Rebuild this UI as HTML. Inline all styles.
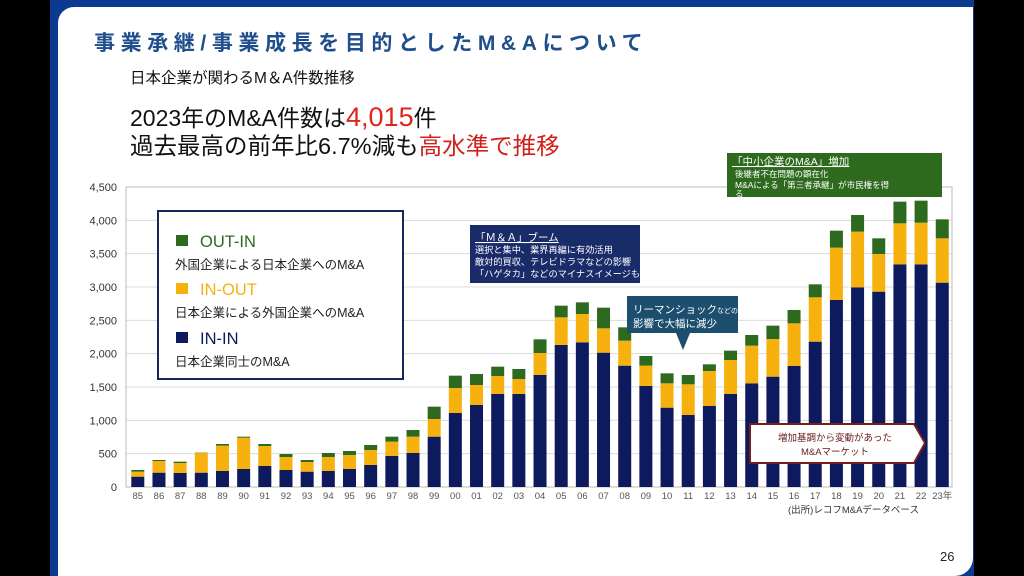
<!DOCTYPE html>
<html><head><meta charset="utf-8">
<style>
*{margin:0;padding:0;box-sizing:border-box}
body{width:1024px;height:576px;background:#000;position:relative;overflow:hidden;font-family:"Liberation Sans","Noto Sans CJK JP",sans-serif}
#frame{position:absolute;left:50px;top:0;width:924px;height:576px;background:#0b3a8e}
#slide{position:absolute;left:58px;top:7px;width:915px;height:569px;background:#fff;border-radius:16px 0 18px 0}
.t{position:absolute;white-space:nowrap}
</style></head><body>
<div id="frame"></div>
<div id="slide"></div>
<div class="t" style="left:94px;top:27px;font-size:21px;font-weight:bold;color:#1f4e8c;letter-spacing:5.6px">事業承継/事業成長を目的としたM&amp;Aについて</div>
<div class="t" style="left:130px;top:66px;font-size:15.5px;color:#111">日本企業が関わるM＆A件数推移</div>
<div class="t" style="left:130px;top:99px;font-size:23px;color:#111">2023年のM&amp;A件数は<span style="color:#e0241c;font-size:27px">4,015</span>件</div>
<div class="t" style="left:130px;top:127px;font-size:23.5px;color:#111">過去最高の前年比6.7%減も<span style="color:#d0221a">高水準で推移</span></div>
<svg id="ch" width="1024" height="576" style="position:absolute;left:0;top:0" font-family="Liberation Sans, Noto Sans CJK JP, sans-serif"></svg>
<div class="t" style="left:940px;top:549px;font-size:13px;color:#222">26</div>
<script>
var d=[[155,75,25],[215,175,15],[210,150,20],[215,295,5],[240,380,25],[270,470,15],[315,300,30],[255,195,45],[230,145,30],[240,210,60],[270,210,60],[330,225,75],[465,215,75],[510,245,100],[755,265,185],[1110,375,185],[1230,300,165],[1395,270,140],[1395,225,150],[1680,330,205],[2130,415,175],[2170,425,175],[2015,365,310],[1820,375,200],[1515,305,145],[1190,365,150],[1080,460,140],[1215,525,100],[1395,510,140],[1555,565,160],[1655,565,200],[1815,640,200],[2180,665,195],[2805,785,255],[2995,835,250],[2930,565,235],[3340,615,325],[3340,625,330],[3065,665,285]];
var lab=["85","86","87","88","89","90","91","92","93","94","95","96","97","98","99","00","01","02","03","04","05","06","07","08","09","10","11","12","13","14","15","16","17","18","19","20","21","22","23年"];
var k=300/4500,s='';
for(var i=0;i<=9;i++){var y=487-i*500*k;s+='<line x1="126" x2="952" y1="'+y+'" y2="'+y+'" stroke="#dcdcdc" stroke-width="1"/>';
s+='<text x="117" y="'+(y+4)+'" font-size="11" fill="#333" text-anchor="end">'+(i==0?'0':(i*500).toLocaleString('en-US'))+'</text>';}
s+='<rect x="126" y="187" width="826" height="300" fill="none" stroke="#bbb"/>';
var c=['#0d1a5e','#f7b10f','#2d6a1f'];
for(var j=0;j<d.length;j++){var x=137.8+j*21.17,b=487;
for(var m=0;m<3;m++){var h=d[j][m]*k;s+='<rect x="'+(x-6.5)+'" y="'+(b-h)+'" width="13" height="'+h+'" fill="'+c[m]+'"/>';b-=h;}
s+='<text x="'+x+'" y="499" font-size="9.5" fill="#555" text-anchor="middle">'+lab[j]+'</text>';}
s+='<rect x="158" y="211" width="245" height="168" fill="#fff" stroke="#1a2560" stroke-width="2"/>';
var L=[['OUT-IN','#2d6a1f','外国企業による日本企業へのM&amp;A',241],['IN-OUT','#f7b10f','日本企業による外国企業へのM&amp;A',289],['IN-IN','#0d1a5e','日本企業同士のM&amp;A',338]];
L.forEach(function(l){s+='<rect x="176" y="'+(l[3]-6)+'" width="12" height="11" fill="'+l[1]+'"/>';
s+='<text x="200" y="'+(l[3]+6)+'" font-size="16.5" fill="'+l[1]+'">'+l[0]+'</text>';
s+='<text x="175" y="'+(l[3]+28)+'" font-size="12.5" fill="#222">'+l[2]+'</text>';});
s+='<rect x="470" y="225" width="170" height="58" fill="#1a2b6a"/>';
s+='<text x="475" y="241" font-size="10.5" fill="#fff" text-decoration="underline">「Ｍ＆Ａ」ブーム</text>';
s+='<text x="475" y="253" font-size="9.2" fill="#fff">選択と集中、業界再編に有効活用</text>';
s+='<text x="475" y="265" font-size="9.2" fill="#fff">敵対的買収、テレビドラマなどの影響</text>';
s+='<text x="475" y="277" font-size="9.2" fill="#fff">「ハゲタカ」などのマイナスイメージも</text>';
s+='<rect x="627" y="296" width="111" height="37" fill="#1d4e6e"/><polygon points="676,333 690,333 683,350" fill="#1d4e6e"/>';
s+='<text x="633" y="313" font-size="10.5" fill="#fff">リーマンショック<tspan font-size="7">などの</tspan></text>';
s+='<text x="633" y="327" font-size="10.5" fill="#fff">影響で大幅に減少</text>';
s+='<rect x="727" y="153" width="215" height="44" fill="#2d6a1e"/>';
s+='<text x="732" y="165" font-size="10.5" fill="#fff" text-decoration="underline">「中小企業のM&amp;A」増加</text>';
s+='<text x="735" y="177" font-size="8.5" fill="#fff">後継者不在問題の顕在化</text>';
s+='<text x="735" y="188" font-size="8.5" fill="#fff">M&amp;Aによる「第三者承継」が市民権を得</text>';
s+='<text x="735" y="197" font-size="8.5" fill="#fff">る</text>';
s+='<polygon points="750,424 914,424 925,443 914,463 750,463" fill="#fff" stroke="#7a1c1c" stroke-width="2"/>';
s+='<text x="835" y="441" font-size="9.5" fill="#6a1a1a" text-anchor="middle">増加基調から変動があった</text>';
s+='<text x="835" y="455" font-size="9.5" fill="#6a1a1a" text-anchor="middle">M&amp;Aマーケット</text>';
s+='<text x="788" y="513" font-size="9.5" fill="#333">(出所)レコフM&amp;Aデータベース</text>';
document.getElementById('ch').innerHTML=s;
</script>
</body></html>
